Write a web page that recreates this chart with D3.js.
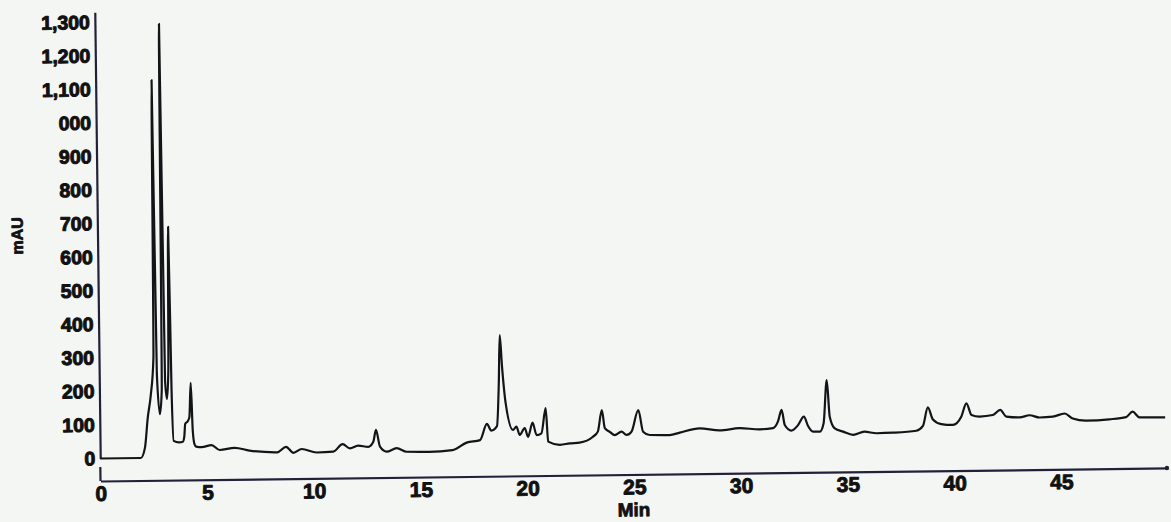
<!DOCTYPE html>
<html>
<head>
<meta charset="utf-8">
<script src="https://cdn.jsdelivr.net/npm/d3@7"></script>
<style>
  html, body { margin: 0; padding: 0; background: #f4f6f3; }
  svg { display: block; }
  .tick text, .title { font-family: "Liberation Sans", Arial, sans-serif; font-weight: bold; fill: #111; }
</style>
</head>
<body>
<svg id="chart" width="1171" height="522"></svg>
<script>
// Chromatogram trace: retention time (min) and detector response (mAU)
const retentionTime = [
  0, 1.9, 2.1, 2.25, 2.4, 2.55, 2.62, 2.7, 2.82, 2.92,
  3.0, 3.08, 3.16, 3.24, 3.31, 3.38, 3.45, 3.7, 3.88, 3.95,
  4.0, 4.12, 4.2, 4.28, 4.35, 4.42, 4.5, 4.76, 5.22, 5.6,
  6.3, 7.0, 8.3, 8.71, 9.05, 9.44, 10.14, 10.92, 11.36, 11.7,
  12.09, 12.56, 12.8, 12.93, 13.11, 13.42, 13.89, 14.36, 15.4, 16.5,
  17.17, 17.8, 18.13, 18.33, 18.6, 18.71, 18.78, 18.87, 19.02, 19.35,
  19.51, 19.66, 19.9, 20.05, 20.27, 20.45, 20.68, 20.89, 20.99, 21.54,
  22.0, 22.46, 23.09, 23.32, 23.52, 23.65, 23.88, 24.11, 24.43, 24.66,
  24.9, 25.23, 25.44, 25.75, 26.68, 27.16, 28.09, 29.03, 29.96, 30.9,
  31.53, 31.76, 31.94, 32.08, 32.39, 32.7, 32.98, 33.17, 33.4, 33.72,
  33.9, 34.07, 34.19, 34.42, 34.81, 35.28, 35.8, 36.38, 37.14, 38.24,
  38.55, 38.79, 39.02, 39.41, 39.95, 40.35, 40.6, 40.83, 41.21, 41.83,
  42.18, 42.46, 43.08, 43.55, 44.02, 44.64, 45.19, 45.57, 46.19, 47.28,
  48.07, 48.38, 48.69, 49.9
];
const absorbance = [
  0, 0, 30, 120, 185, 300, 1126, 250, 130, 200,
  1293, 230, 175, 260, 688, 200, 50, 45, 47, 62,
  100, 108, 120, 222, 80, 40, 32, 30, 36, 21,
  27, 18, 12, 28, 10, 21, 10, 12, 34, 21,
  29, 25, 40, 75, 25, 10, 20, 9, 8, 12,
  34, 41, 89, 69, 82, 210, 353, 260, 150, 70,
  80, 55, 75, 49, 91, 54, 59, 134, 34, 24,
  28, 30, 47, 62, 126, 72, 61, 51, 61, 51,
  61, 125, 60, 50, 49, 56, 68, 61, 67, 63,
  66, 85, 120, 75, 58, 74, 99, 71, 54, 54,
  79, 207, 98, 63, 53, 43, 52, 47, 48, 53,
  67, 122, 86, 72, 69, 93, 133, 98, 93, 97,
  112, 92, 89, 95, 88, 90, 99, 84, 77, 80,
  86, 102, 85, 84
];

// Axis ticks and labels
const xTickValues = [0, 5, 10, 15, 20, 25, 30, 35, 40, 45];
const xTickLabels = ["0", "5", "10", "15", "20", "25", "30", "35", "40", "45"];
const yTickValues = [0, 100, 200, 300, 400, 500, 600, 700, 800, 900, 1000, 1100, 1200, 1300];
const yTickLabels = ["0", "100", "200", "300", "400", "500", "600", "700", "800", "900", "000", "1,100", "1,200", "1,300"];
const xTitle = "Min";
const yTitle = "mAU";

const svg = d3.select("#chart");
const ink = "#141318";
const axisInk = "#23213a";

// the printed plot sits slightly tilted on the page
const plot = svg.append("g").attr("transform", "rotate(-0.7 100 481)");

const x = d3.scaleLinear().domain([0, 50]).range([100.5, 1168]);
const y = d3.scaleLinear().domain([0, 1330]).range([458.5, 458.5 - 1330 * 0.3355]);

// x axis
const xAxis = plot.append("g")
  .attr("transform", "translate(0,481)")
  .call(d3.axisBottom(x).tickValues(xTickValues)
    .tickFormat((d, i) => xTickLabels[i]).tickSize(0).tickPadding(5));
xAxis.select(".domain").attr("stroke", axisInk).attr("stroke-width", 2.2);
xAxis.selectAll(".tick text").attr("font-size", 21)
  .attr("stroke", "#111").attr("stroke-width", 0.9).attr("stroke-linejoin", "round");
xAxis.append("line")
  .attr("x1", x(0)).attr("x2", x(0)).attr("y1", -14).attr("y2", 0)
  .attr("stroke", axisInk).attr("stroke-width", 2.2);
xAxis.append("circle").attr("cx", x(50) - 1).attr("cy", 0).attr("r", 2.2).attr("fill", axisInk);

// y axis
const yAxis = plot.append("g")
  .attr("transform", "translate(100.5,0)")
  .call(d3.axisLeft(y).tickValues(yTickValues)
    .tickFormat((d, i) => yTickLabels[i]).tickSize(0).tickPadding(5));
yAxis.select(".domain").attr("stroke", axisInk).attr("stroke-width", 2.2);
yAxis.selectAll(".tick text").attr("font-size", 19.5)
  .attr("stroke", "#111").attr("stroke-width", 1).attr("stroke-linejoin", "round");

// axis titles
plot.append("text").attr("class", "title")
  .attr("transform", "translate(20,235) rotate(-90)")
  .attr("text-anchor", "middle").attr("dy", "0.36em")
  .attr("font-size", 16).attr("stroke", "#111").attr("stroke-width", 0.8)
  .attr("stroke-linejoin", "round")
  .text(yTitle);
plot.append("text").attr("class", "title")
  .attr("x", 633.6).attr("y", 516).attr("dy", "0.36em")
  .attr("text-anchor", "middle")
  .attr("font-size", 19).attr("stroke", "#111").attr("stroke-width", 0.8)
  .attr("stroke-linejoin", "round")
  .text(xTitle);

// chromatogram trace
const points = d3.zip(retentionTime, absorbance);
const line = d3.line()
  .x(d => x(d[0]))
  .y(d => y(d[1]))
  .curve(d3.curveMonotoneX);
plot.append("path")
  .datum(points)
  .attr("fill", "none")
  .attr("stroke", ink)
  .attr("stroke-width", 2.2)
  .attr("stroke-linejoin", "round")
  .attr("d", line);
</script>
</body>
</html>
